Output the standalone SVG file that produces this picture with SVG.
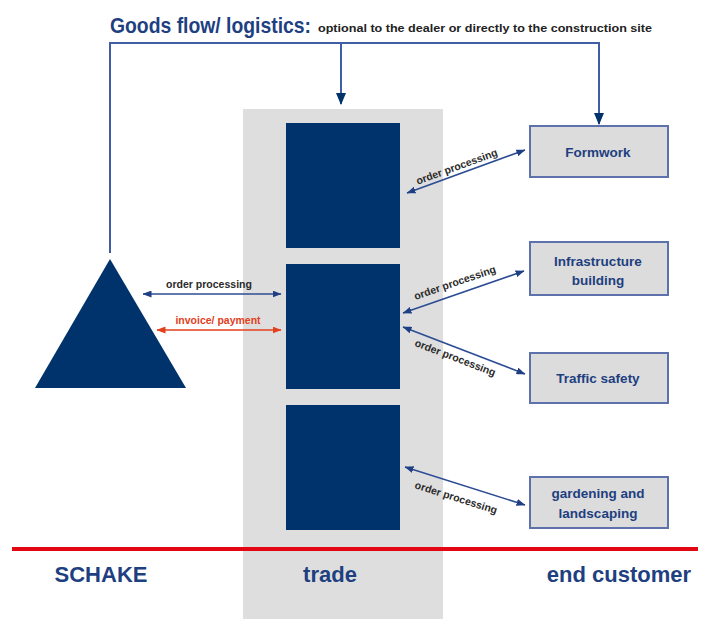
<svg xmlns="http://www.w3.org/2000/svg" width="702" height="619" viewBox="0 0 702 619">
<defs>
<style>
.blk{fill:#00336b}
.box rect{fill:#dcdcdc;stroke:#5d72ad;stroke-width:2}
.box text{font-family:"Liberation Sans",Arial,sans-serif;font-weight:bold;font-size:13.5px;fill:#1e3f80;text-anchor:middle}
.lbl{font-family:"Liberation Sans",Arial,sans-serif;font-weight:bold;font-size:10.5px;fill:#2a2a2a;text-anchor:middle}
.conn{fill:none;stroke:#3f5ea3;stroke-width:2}
.arr{fill:none;stroke:#2c4c94;stroke-width:1.6}
.foot{font-family:"Liberation Sans",Arial,sans-serif;font-weight:bold;font-size:22px;fill:#1e3f80;text-anchor:middle}
</style>
<marker id="big" viewBox="0 0 12 10" refX="11" refY="5" markerWidth="12" markerHeight="10" markerUnits="userSpaceOnUse" orient="auto">
<path d="M0,0 L12,5 L0,10 Z" fill="#00336b"/>
</marker>
<marker id="sm" viewBox="0 0 9 7" refX="8.5" refY="3.5" markerWidth="9" markerHeight="7" markerUnits="userSpaceOnUse" orient="auto-start-reverse">
<path d="M0,0 L9,3.5 L0,7 Z" fill="#1f3f85"/>
</marker>
<marker id="smr" viewBox="0 0 9 7" refX="8.5" refY="3.5" markerWidth="9" markerHeight="7" markerUnits="userSpaceOnUse" orient="auto-start-reverse">
<path d="M0,0 L9,3.5 L0,7 Z" fill="#e2401c"/>
</marker>
</defs>
<rect width="702" height="619" fill="#ffffff"/>

<g id="title">
<text x="110" y="33" font-family="Liberation Sans,Arial,sans-serif" font-weight="bold" font-size="22" fill="#1e3f80" textLength="201" lengthAdjust="spacingAndGlyphs">Goods flow/ logistics:</text>
<text x="318" y="32" font-family="Liberation Sans,Arial,sans-serif" font-weight="bold" font-size="10.5" fill="#222" textLength="334" lengthAdjust="spacingAndGlyphs">optional to the dealer or directly to the construction site</text>
</g>

<g id="trade-column">
<rect x="243" y="109" width="200" height="510" fill="#dedede"/>
</g>
<g id="trade-1"><rect class="blk" x="286" y="123" width="114" height="125"/></g>
<g id="trade-2"><rect class="blk" x="286" y="264" width="114" height="125"/></g>
<g id="trade-3"><rect class="blk" x="286" y="405" width="114" height="125"/></g>

<g id="schake"><polygon class="blk" points="110,259 186,388 35,388"/></g>

<g id="formwork" class="box"><rect x="530" y="126" width="138" height="51"/><text x="598" y="157">Formwork</text></g>
<g id="infrastructure" class="box"><rect x="530" y="242" width="138" height="53"/><text x="598" y="266">Infrastructure</text><text x="598" y="285">building</text></g>
<g id="traffic" class="box"><rect x="530" y="353" width="138" height="50"/><text x="598" y="383">Traffic safety</text></g>
<g id="gardening" class="box"><rect x="530" y="477" width="138" height="51"/><text x="598" y="498">gardening and</text><text x="598" y="518">landscaping</text></g>

<g id="connectors">
<path class="conn" d="M110,253 V43 H599 V124" marker-end="url(#big)"/>
<path class="conn" d="M341,43 V104" marker-end="url(#big)"/>
<line class="arr" x1="143" y1="294" x2="281" y2="294" marker-start="url(#sm)" marker-end="url(#sm)"/>
<line x1="157" y1="330" x2="281" y2="330" stroke="#e2401c" stroke-width="1.6" marker-start="url(#smr)" marker-end="url(#smr)"/>
<line class="arr" x1="407" y1="193" x2="525" y2="150" marker-start="url(#sm)" marker-end="url(#sm)"/>
<line class="arr" x1="403" y1="313" x2="524" y2="271" marker-start="url(#sm)" marker-end="url(#sm)"/>
<line class="arr" x1="403" y1="327" x2="525" y2="374" marker-start="url(#sm)" marker-end="url(#sm)"/>
<line class="arr" x1="405" y1="467" x2="525" y2="505" marker-start="url(#sm)" marker-end="url(#sm)"/>
</g>

<g id="labels">
<text class="lbl" x="209" y="288">order processing</text>
<text class="lbl" x="218" y="324" style="fill:#e2401c">invoice/ payment</text>
<text class="lbl" transform="translate(458,170) rotate(-20)">order processing</text>
<text class="lbl" transform="translate(456,286) rotate(-19)">order processing</text>
<text class="lbl" transform="translate(454,361) rotate(21)">order processing</text>
<text class="lbl" transform="translate(455,501) rotate(17.6)">order processing</text>
</g>

<g id="baseline">
<line x1="12" y1="549" x2="698" y2="549" stroke="#e30613" stroke-width="4"/>
<text class="foot" x="101" y="582">SCHAKE</text>
<text class="foot" x="330" y="582">trade</text>
<text class="foot" x="619" y="582">end customer</text>
</g>
</svg>
